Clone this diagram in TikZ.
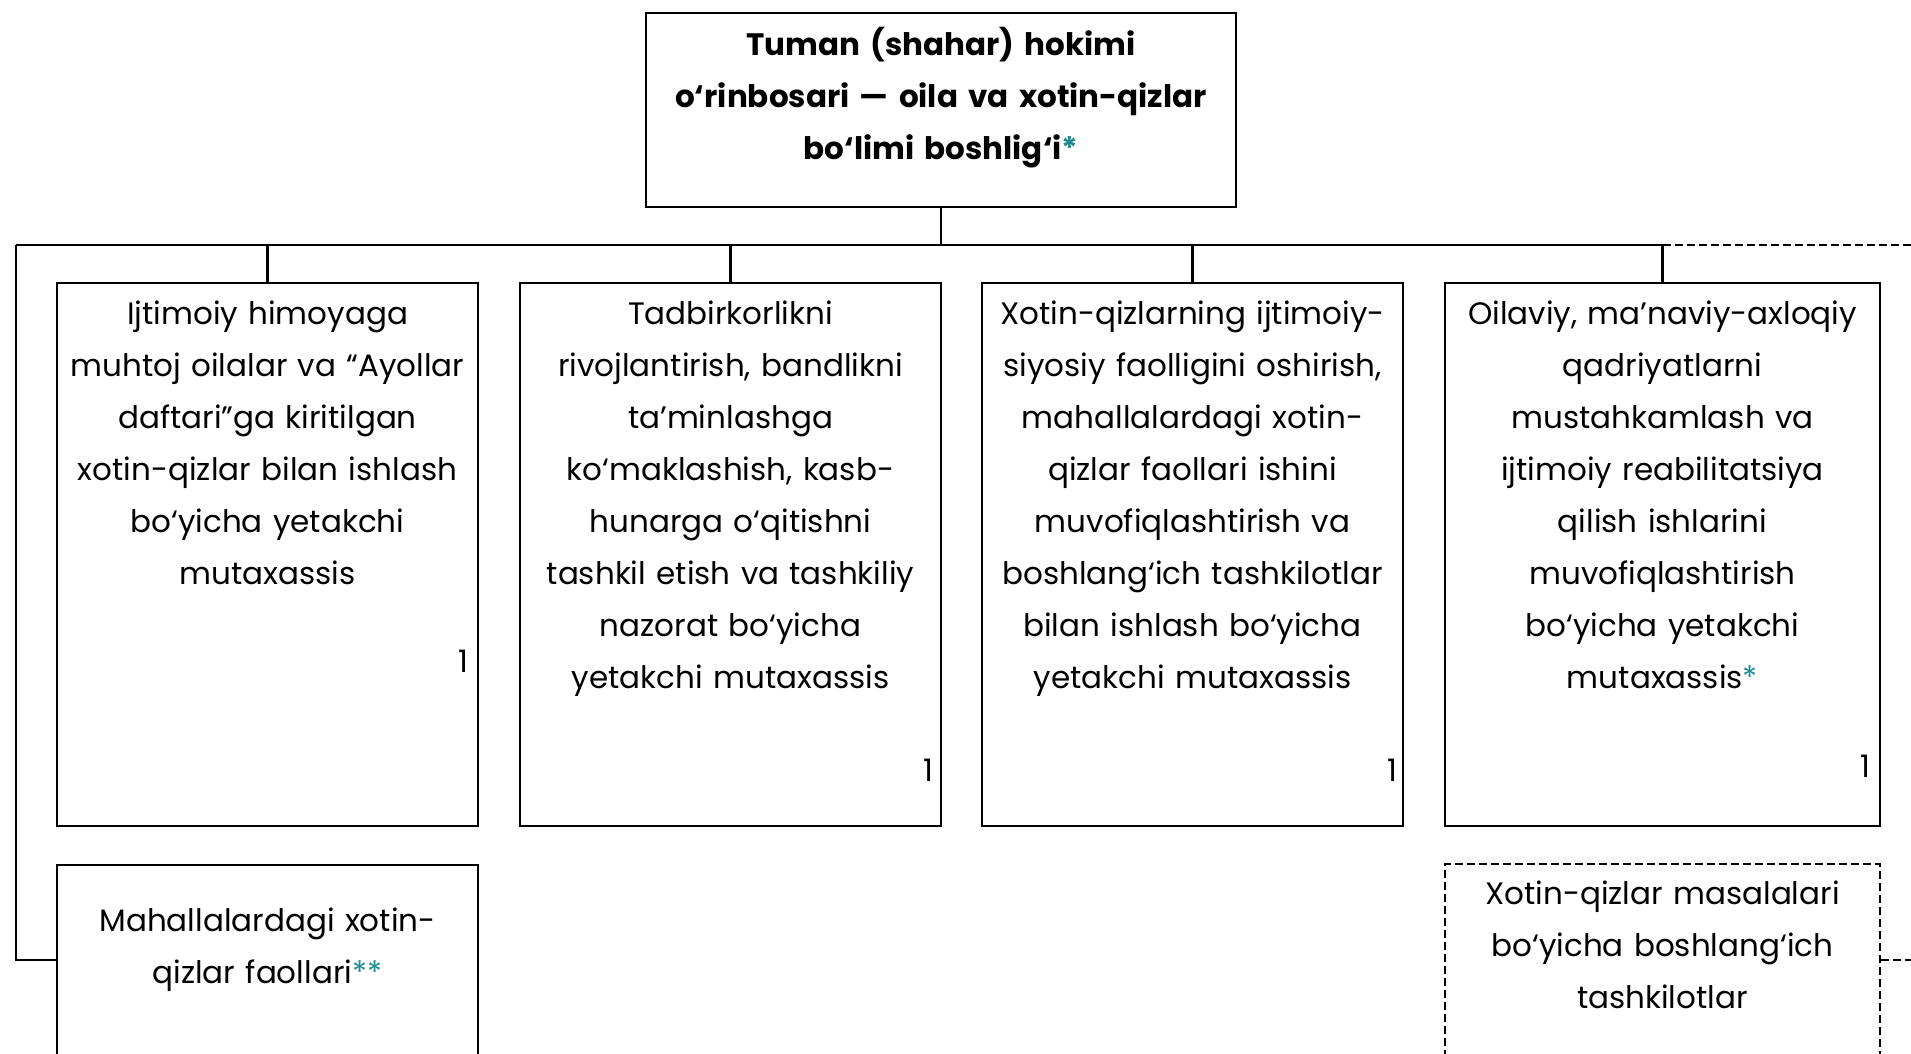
\documentclass[tikz,border=0pt]{standalone}
\usepackage{fontspec}
\setmainfont{Poppins}
\usepackage{tikz}
\usetikzlibrary{positioning}
\definecolor{asteal}{HTML}{1E8C8C}
\newcommand{\boxfont}{\fontsize{15.5}{26}\selectfont}
\newcommand{\tealstar}[1]{\textcolor{asteal}{#1}}

\begin{document}
\begin{tikzpicture}[x=0.5pt, y=-0.5pt, thick,
    unit node/.style={rectangle, draw, line width=1.3pt, inner sep=0pt},
    dash node/.style={rectangle, draw, line width=0.8pt, dash pattern=on 4pt off 2pt, inner sep=0pt},
    label node/.style={anchor=north, align=center, inner sep=0pt, font=\boxfont},
    count node/.style={inner sep=0pt, font=\boxfont},
    link/.style={line width=1.2pt},
    dlink/.style={line width=0.8pt, dash pattern=on 4pt off 2pt}]
    \useasboundingbox (0,0) rectangle (1911,1054);
    \clip (0,0) rectangle (1911,1054);

    % boxes
    \node[unit node, minimum width=295pt, minimum height=97pt] (head) at (941,110) {};
    \node[unit node, minimum width=210.5pt, minimum height=271.5pt] (b1) at (267.5,554.5) {};
    \node[unit node, minimum width=210.5pt, minimum height=271.5pt] (b2) at (730.5,554.5) {};
    \node[unit node, minimum width=210.5pt, minimum height=271.5pt] (b3) at (1192.5,554.5) {};
    \node[unit node, minimum width=217.5pt, minimum height=271.5pt] (b4) at (1662.5,554.5) {};
    \node[unit node, minimum width=210.5pt, minimum height=95pt] (b5) at (267.5,960) {};
    \node[dash node, minimum width=217.5pt, minimum height=96pt] (b6) at (1662.5,960) {};

    % texts
    \node[label node, text width=292pt, font=\boxfont\bfseries] (thead) at ([yshift=-3.5pt]head.north)
        {\strut Tuman (shahar) hokimi\\o‘rinbosari — oila va xotin-qizlar\\bo‘limi boshlig‘i\tealstar{*}};
    \node[label node, text width=210pt] (t1) at ([yshift=-3pt]b1.north)
        {\strut Ijtimoiy himoyaga\\muhtoj oilalar va “Ayollar\\daftari”ga kiritilgan\\xotin-qizlar bilan ishlash\\bo‘yicha yetakchi\\mutaxassis};
    \node[label node, text width=210pt] (t2) at ([yshift=-3pt]b2.north)
        {\strut Tadbirkorlikni\\rivojlantirish, bandlikni\\ta’minlashga\\ko‘maklashish, kasb-\\hunarga o‘qitishni\\tashkil etish va tashkiliy\\nazorat bo‘yicha\\yetakchi mutaxassis};
    \node[label node, text width=210pt] (t3) at ([yshift=-3pt]b3.north)
        {\strut Xotin-qizlarning ijtimoiy-\\siyosiy faolligini oshirish,\\mahallalardagi xotin-\\qizlar faollari ishini\\muvofiqlashtirish va\\boshlang‘ich tashkilotlar\\bilan ishlash bo‘yicha\\yetakchi mutaxassis};
    \node[label node, text width=217pt] (t4) at ([yshift=-3pt]b4.north)
        {\strut Oilaviy, ma’naviy-axloqiy\\qadriyatlarni\\mustahkamlash va\\ijtimoiy reabilitatsiya\\qilish ishlarini\\muvofiqlashtirish\\bo‘yicha yetakchi\\mutaxassis\tealstar{*}};
    \node[label node, text width=210pt] (t5) at ([yshift=-15.5pt]b5.north)
        {\strut Mahallalardagi xotin-\\qizlar faollari\tealstar{**}};
    \node[label node, text width=217pt] (t6) at ([yshift=-2pt]b6.north)
        {\strut Xotin-qizlar masalalari\\bo‘yicha boshlang‘ich\\tashkilotlar};

    % staff counts
    \node[count node] (n1) at (463,661) {1};
    \node[count node] (n2) at (928,770) {1};
    \node[count node] (n3) at (1392,770) {1};
    \node[count node] (n4) at (1865,766) {1};

    % connectors
    \coordinate (busL) at (16,245);
    \coordinate (busR) at (1911,245);
    \coordinate (stubR) at (1911,960);
    \draw[link] (head.south) -- (head.south |- busL);
    \draw[link] (busL) -- (b4.north |- busL);
    \draw[dlink] (b4.north |- busL) -- (busR);
    \foreach \b in {b1,b2,b3,b4}
        \draw[link] (\b.north) -- (\b.north |- busL);
    \draw[link] (busL) |- (b5.west);
    \draw[dlink] (b6.east) -- (stubR);
\end{tikzpicture}
\end{document}
